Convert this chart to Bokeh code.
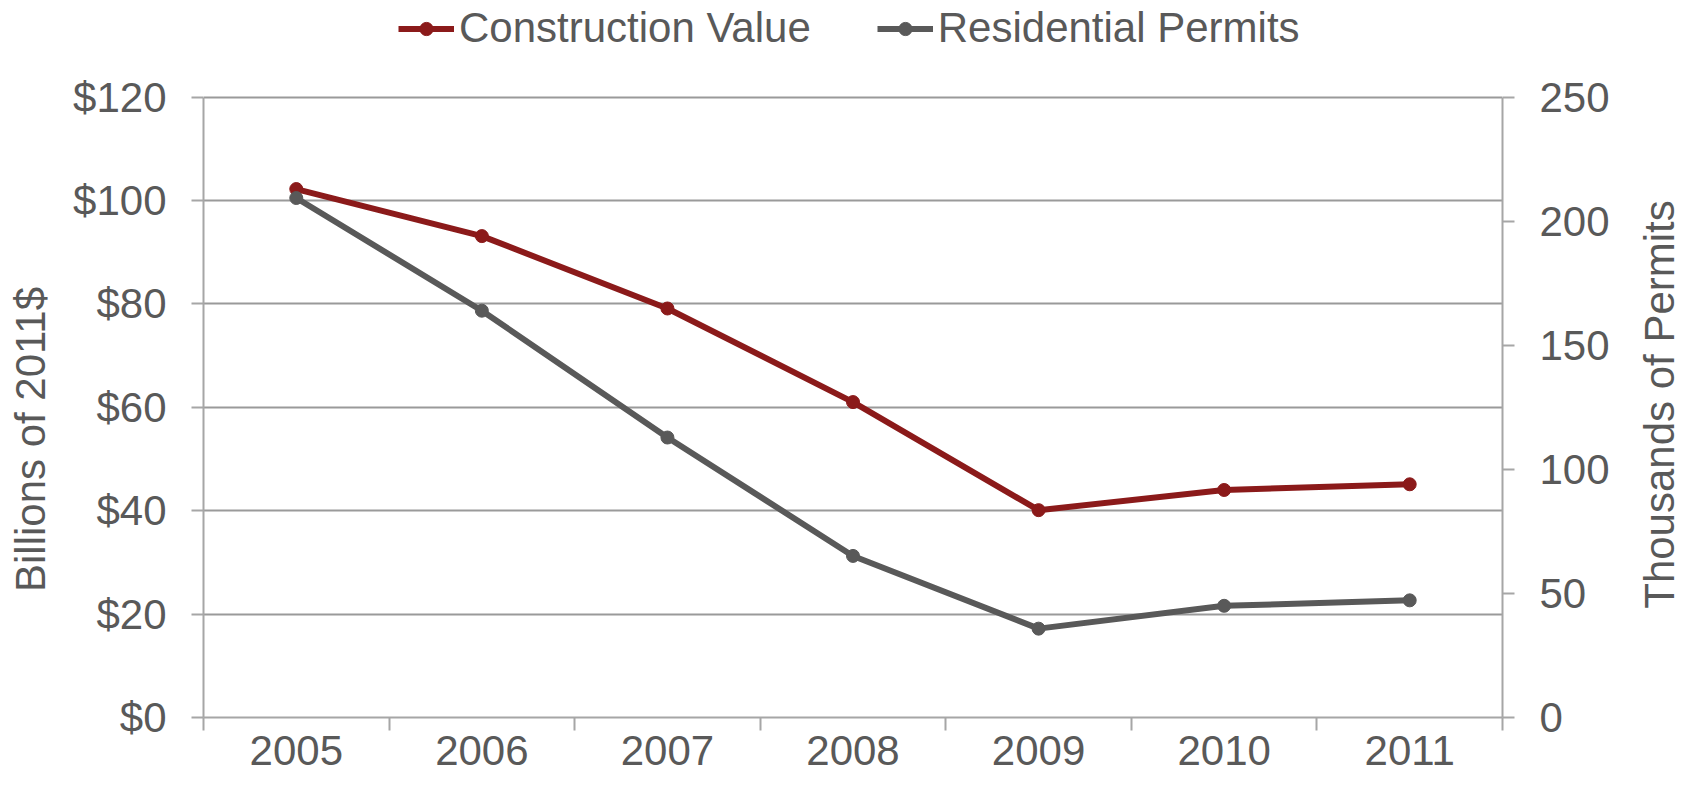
import math
from bokeh.plotting import figure
from bokeh.layouts import row
from bokeh.models import Range1d, LinearAxis, FixedTicker, Legend, LegendItem, NumeralTickFormatter, Label
from bokeh.embed import file_html
from bokeh.resources import INLINE

years = ["2005", "2006", "2007", "2008", "2009", "2010", "2011"]
construction_value = [102.2, 93.1, 79.1, 61.0, 40.1, 44.0, 45.1]
residential_permits = [209.3, 163.9, 112.8, 65.1, 35.8, 45.0, 47.2]
left_ticks = [0, 20, 40, 60, 80, 100, 120]
right_ticks = [0, 50, 100, 150, 200, 250]
left_max, right_max = 120, 250

RED = "#8B1A1A"
GREY = "#595959"
AXIS = "#A6A6A6"
FONT = "Liberation Sans"
FS = "42px"

# layout constants (pixels)
H = 774
BOTTOM = 57            # bottom border of the plot
FRAME_H = H - BOTTOM   # frame spans from the top of the figure down to the x axis
AXIS_TOP = 96.5        # where the top of the value axes sits
W_LEFT, W_RIGHT = 70, 70
W_MAIN = 1544
stretch = FRAME_H / (FRAME_H - AXIS_TOP)

xpos = [i + 0.5 for i in range(len(years))]

p = figure(width=W_MAIN, height=H, x_range=Range1d(0, len(years)),
           y_range=Range1d(0, left_max * stretch),
           output_backend="svg", toolbar_location=None,
           min_border_left=132, min_border_right=112, min_border_top=0, min_border_bottom=BOTTOM)
p.extra_y_ranges = {"permits": Range1d(0, right_max * stretch)}
p.outline_line_color = None
p.background_fill_color = "white"
p.border_fill_color = "white"

p.xgrid.visible = False
p.ygrid.ticker = FixedTicker(ticks=left_ticks)
p.ygrid.grid_line_color = "#9a9a9a"
p.ygrid.grid_line_width = 2

# left axis
ya = p.yaxis[0]
ya.ticker = FixedTicker(ticks=left_ticks)
ya.formatter = NumeralTickFormatter(format="$0")
ya.bounds = (0, left_max)

# bottom axis: labels at category centres, ticks at category boundaries
xa = p.xaxis[0]
xa.ticker = FixedTicker(ticks=xpos, minor_ticks=list(range(len(years) + 1)))
xa.major_label_overrides = {x: y for x, y in zip(xpos, years)}
xa.major_tick_line_color = None
xa.major_tick_in = 0
xa.major_tick_out = 0
xa.minor_tick_in = 0
xa.minor_tick_out = 13
xa.major_label_standoff = 5

# right axis
ra = LinearAxis(y_range_name="permits", ticker=FixedTicker(ticks=right_ticks), bounds=(0, right_max))
p.add_layout(ra, "right")

for ax in [ya, ra, xa]:
    ax.axis_line_color = AXIS
    ax.axis_line_width = 2
    ax.major_label_text_font = FONT
    ax.major_label_text_font_size = FS
    ax.major_label_text_color = GREY
xa.minor_tick_line_color = AXIS
xa.minor_tick_line_width = 2
for ax in [ya, ra]:
    ax.minor_tick_line_color = None
    ax.major_tick_in = 0
    ax.major_tick_out = 12
    ax.major_tick_line_color = AXIS
    ax.major_tick_line_width = 2
    ax.major_label_standoff = 25

l1 = p.line(xpos, construction_value, line_color=RED, line_width=6)
s1 = p.scatter(xpos, construction_value, size=13, fill_color=RED, line_color=RED)
l2 = p.line(xpos, residential_permits, line_color=GREY, line_width=6, y_range_name="permits")
s2 = p.scatter(xpos, residential_permits, size=13, fill_color=GREY, line_color=GREY, y_range_name="permits")

legend = Legend(items=[LegendItem(label="Construction Value", renderers=[l1, s1]),
                       LegendItem(label="Residential Permits", renderers=[l2, s2])],
                orientation="horizontal", location=(195, FRAME_H - 52))
legend.border_line_color = None
legend.background_fill_alpha = 0
legend.padding = 0
legend.margin = 0
legend.spacing = 66
legend.label_standoff = 5
legend.glyph_width = 56
legend.glyph_height = 33
legend.label_text_font = FONT
legend.label_text_font_size = FS
legend.label_text_color = GREY
p.add_layout(legend)


def title_panel(width, text, x, y):
    f = figure(width=width, height=H, x_range=Range1d(0, 1), y_range=Range1d(0, 1),
               output_backend="svg", toolbar_location=None,
               min_border_left=0, min_border_right=0, min_border_top=0, min_border_bottom=BOTTOM)
    f.axis.visible = False
    f.grid.visible = False
    f.outline_line_color = None
    f.background_fill_color = "white"
    f.border_fill_color = "white"
    f.add_layout(Label(x=x, y=y, x_units="screen", y_units="screen", text=text,
                       angle=math.pi / 2, text_align="center", text_baseline="alphabetic",
                       text_font=FONT, text_font_size=FS, text_color=GREY))
    return f


left_title = title_panel(W_LEFT, "Billions of 2011$", 30, FRAME_H - 439)
right_title = title_panel(W_RIGHT, "Thousands of Permits", 45, FRAME_H - 404)

layout = row(left_title, p, right_title, spacing=0)
open("out.html", "w").write(file_html(layout, INLINE))
